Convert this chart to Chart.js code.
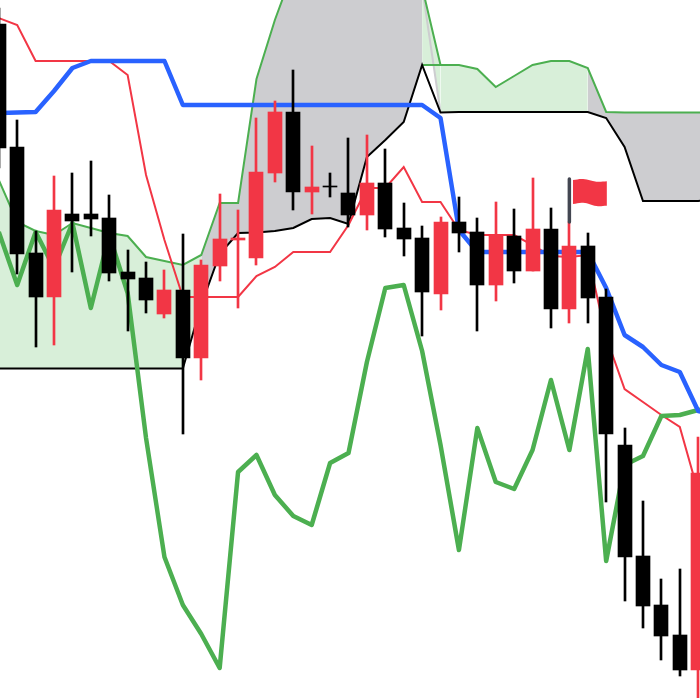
<!DOCTYPE html>
<html lang="en">
<head>
  <meta charset="UTF-8">
  <title>Ichimoku chart</title>
  <style>
    html, body { margin: 0; padding: 0; background: #fff; }
    canvas { display: block; }
  </style>
</head>
<body>
  <canvas id="grafico" width="700" height="698"></canvas>

  <script src="https://cdn.jsdelivr.net/npm/chart.js"></script>
  <script>
    const opens  = [67.4, 55.1, 44.5, 40.1, 48.4, 48.4, 48.0, 42.6, 42.0, 38.4, 40.8, 34.0, 43.2, 45.8, 44.0, 52.5, 58.6, 50.6, 51.15, 50.5, 48.3, 51.5, 47.0, 46.0, 40.4, 47.6, 46.6, 41.3, 46.2, 42.7, 46.9, 38.9, 45.2, 40.1, 25.3, 14.2, 9.3, 6.3, 2.8];
    const closes = [55.0, 44.4, 40.1, 48.8, 47.7, 47.9, 42.5, 41.9, 39.8, 40.8, 34.0, 43.3, 45.9, 46.0, 52.6, 58.6, 50.6, 51.1, 51.05, 48.3, 51.5, 46.9, 45.9, 40.6, 47.6, 46.5, 41.3, 46.3, 42.7, 46.9, 38.9, 45.2, 40.0, 26.4, 14.1, 9.2, 6.2, 2.8, 22.5];
    const highs  = [69.0, 57.8, 46.7, 52.2, 52.5, 53.7, 50.3, 44.8, 43.6, 42.8, 46.4, 43.8, 50.4, 48.8, 58.0, 59.7, 62.8, 55.2, 52.5, 56.0, 56.3, 54.9, 49.5, 47.2, 48.1, 50.1, 48.0, 49.6, 48.9, 52.0, 49.0, 47.6, 46.5, 40.9, 27.0, 19.7, 11.9, 12.9, 26.1];
    const lows   = [53.0, 42.4, 35.1, 35.3, 42.6, 46.2, 41.7, 36.7, 38.5, 38.0, 26.4, 31.8, 41.7, 39.0, 43.3, 51.6, 48.8, 48.4, 50.1, 47.1, 46.8, 46.1, 44.2, 36.2, 38.8, 44.6, 36.7, 39.7, 41.5, 42.7, 37.0, 37.5, 37.5, 19.6, 9.7, 7.0, 3.8, 2.2, -2.0];

    const conversao = [68.0, 67.3, 63.7, 63.7, 63.7, 63.7, 63.7, 62.3, 52.3, 45.8, 40.1, 40.1, 40.1, 40.1, 42.2, 43.1, 44.6, 44.6, 44.6, 47.3, 51.0, 51.0, 53.1, 49.6, 49.6, 46.8, 46.3, 46.3, 46.3, 45.3, 44.2, 44.1, 44.3, 36.1, 30.9, 29.6, 28.3, 27.1, 20.6];
    const base = [58.5, 58.55, 58.6, 60.7, 63.0, 63.7, 63.7, 63.7, 63.7, 63.7, 59.3, 59.3, 59.3, 59.3, 59.3, 59.3, 59.3, 59.3, 59.3, 59.3, 59.3, 59.3, 59.3, 59.3, 58.0, 46.8, 44.6, 44.6, 44.6, 44.6, 44.6, 44.6, 44.6, 41.0, 36.3, 35.1, 33.3, 32.6, 28.7, 28.3];
    const atraso = [46.6, 41.3, 46.6, 43.0, 47.5, 39.0, 46.3, 40.5, 26.0, 14.1, 9.3, 6.4, 3.0, 22.6, 24.3, 20.3, 18.2, 17.3, 23.5, 24.5, 33.6, 41.0, 41.3, 34.7, 25.3, 14.8, 27.0, 21.6, 20.9, 24.8, 31.8, 24.8, 34.9, 13.7, 23.3, 24.2, 28.2, 28.3, 28.8, 29.0];
    const spanA = [51.8, 47.6, 46.7, 46.3, 47.5, 47.0, 46.5, 46.2, 44.1, 43.7, 43.3, 44.3, 49.5, 49.5, 61.9, 67.8, 72.8, 72.8, 72.8, 72.8, 72.8, 72.8, 72.8, 71.1, 63.3, 63.3, 62.9, 61.1, 62.2, 63.3, 63.7, 63.7, 63.0, 58.6, 58.55, 58.55, 58.55, 58.55, 58.55, 58.55];
    const spanB = [32.95, 32.95, 32.95, 32.95, 32.95, 32.95, 32.95, 32.95, 32.95, 32.95, 32.95, 39.3, 44.4, 46.5, 46.55, 46.7, 47.0, 47.9, 48.0, 47.4, 54.1, 55.8, 57.6, 63.3, 58.55, 58.6, 58.6, 58.6, 58.6, 58.6, 58.6, 58.6, 58.6, 58.0, 55.1, 49.7, 49.7, 49.7, 49.7, 49.9];

    // bandeira sobre a vela 31
    const flagIndex = 31;
    const flagPole = [51.9, 47.6];
    const flagX = [31.19, 31.75, 32.47, 33.04];
    const flagTop = [51.8, 51.9, 51.63, 51.67];
    const flagBottom = [49.4, 49.53, 49.2, 49.23];

    const RED = '#f23645';
    const GREEN = '#4caf50';
    const BLUE = '#2962ff';
    const CLOUD_GREEN = '#d8efd9';
    const CLOUD_GREY = '#cdcdd0';

    const pontos = (valores, de = 0, ate = valores.length - 1) =>
      valores.slice(de, ate + 1).map((y, i) => ({ x: de + i, y }));

    const linha = (data, cor, largura, ordem, extra = {}) => ({
      type: 'line', data, borderColor: cor, borderWidth: largura, order: ordem,
      pointRadius: 0, fill: false, tension: 0, ...extra
    });

    // um par de limites sem traço, preenchido entre os dois
    const nuvem = (cima, baixo, cor, ordem) => [
      linha(cima, 'transparent', 0, ordem, { fill: '+1', backgroundColor: cor }),
      linha(baixo, 'transparent', 0, ordem + 1)
    ];

    const corVela = opens.map((o, i) => closes[i] >= o ? RED : '#000000');

    const datasets = [
      ...nuvem(pontos(spanA, 0, 11), pontos(spanB, 0, 11), CLOUD_GREEN, 30),
      ...nuvem(pontos(spanA, 11, 23), pontos(spanB, 11, 23), CLOUD_GREY, 28),
      ...nuvem(pontos(spanA, 23, 24), [{ x: 23, y: spanA[24] }, { x: 24, y: spanA[24] }], CLOUD_GREEN, 26),
      ...nuvem(pontos(spanA, 23, 24), [{ x: 23, y: spanA[23] }, { x: 24, y: spanB[24] }], CLOUD_GREEN, 24),
      ...nuvem(pontos(spanA, 24, 32), pontos(spanB, 24, 32), CLOUD_GREEN, 22),
      ...nuvem(pontos(spanA, 32, 39), pontos(spanB, 32, 39), CLOUD_GREY, 20),

      linha([{ x: 23, y: spanA[23] }, { x: 24, y: spanB[24] }], CLOUD_GREY, 2, 14),
      linha([{ x: 23, y: spanA[24] }, { x: 24, y: spanA[24] }], GREEN, 2, 13),
      linha(pontos(spanA), GREEN, 2, 12),
      linha(pontos(spanB), '#000000', 2, 11),
      linha(pontos(conversao), RED, 2, 10),
      linha(pontos(atraso), GREEN, 4.5, 9, { borderJoinStyle: 'round' }),
      linha(pontos(base), BLUE, 4.5, 8, { borderJoinStyle: 'round' }),

      {
        type: 'bar', order: 4, grouped: false, barThickness: 2,
        data: highs.map((h, i) => ({ x: i, y: [lows[i], h] })),
        backgroundColor: corVela
      },
      {
        type: 'bar', order: 3, grouped: false, barThickness: 14,
        data: opens.map((o, i) => ({ x: i, y: [o, closes[i]] })),
        backgroundColor: corVela
      },

      linha(flagX.map((x, i) => ({ x, y: flagTop[i] })), RED, 0, 2, { fill: '+1', backgroundColor: RED, tension: 0.4 }),
      linha(flagX.map((x, i) => ({ x, y: flagBottom[i] })), RED, 0, 3, { tension: 0.4 }),
      linha(flagPole.map(y => ({ x: flagIndex, y })), '#434651', 3.5, 1, { borderCapStyle: 'round' })
    ];

    // as velas ficam nítidas, alinhadas ao pixel
    const alinharVelas = {
      id: 'alinharVelas',
      beforeDatasetsDraw(chart) {
        chart.data.datasets.forEach((ds, i) => {
          if (ds.type !== 'bar') return;
          chart.getDatasetMeta(i).data.forEach(el => {
            el.x = Math.round(el.x);
            el.y = Math.round(el.y);
            el.base = Math.round(el.base);
          });
        });
      }
    };

    new Chart(document.getElementById('grafico').getContext('2d'), {
      data: { datasets },
      plugins: [alinharVelas],
      options: {
        responsive: false,
        animation: false,
        layout: { padding: 0 },
        plugins: { legend: { display: false }, tooltip: { enabled: false } },
        scales: {
          x: { type: 'linear', offset: false, min: 0.0652, max: 38.098, display: false },
          y: { type: 'linear', min: 0, max: 69.8, display: false }
        }
      }
    });
  </script>
</body>
</html>
